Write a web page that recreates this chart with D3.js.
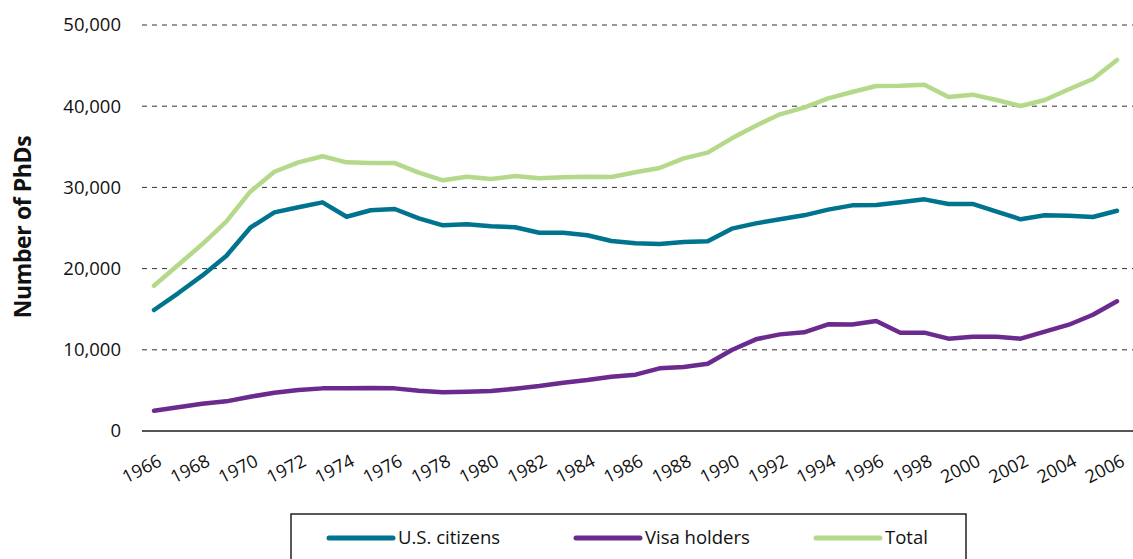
<!DOCTYPE html>
<html>
<head>
<meta charset="utf-8">
<script src="https://cdn.jsdelivr.net/npm/d3@7"></script>
<style>
  body { margin: 0; background: #fff; }
  text { font-family: "Open Sans", "Noto Sans", sans-serif; fill: #111; }
</style>
</head>
<body>
<svg width="1133" height="559"></svg>
<script>
// years 1966..2006
const years = d3.range(1966, 2007);
const yearTicks = d3.range(1966, 2007, 2);
const yTicks = [0, 10000, 20000, 30000, 40000, 50000];

const usCitizens = [14900, 16960, 19130, 21550, 25040, 26930, 27550, 28160, 26390, 27180,
  27340, 26190, 25330, 25450, 25210, 25090, 24420, 24420, 24100, 23400,
  23110, 23030, 23280, 23360, 24920, 25570, 26070, 26560, 27260, 27790,
  27830, 28160, 28530, 27960, 27960, 27010, 26070, 26560, 26520, 26350, 27130];

const visaHolders = [2500, 2920, 3360, 3650, 4220, 4720, 5050, 5250, 5250, 5300,
  5250, 4960, 4760, 4840, 4930, 5210, 5540, 5950, 6280, 6690,
  6940, 7720, 7880, 8290, 9980, 11290, 11900, 12150, 13140, 13110,
  13550, 12110, 12110, 11370, 11620, 11620, 11370, 12230, 13090, 14320, 15970];

const total = [17890, 20440, 22990, 25780, 29470, 31930, 33090, 33830, 33090, 33000,
  33000, 31810, 30870, 31320, 31030, 31400, 31120, 31240, 31320, 31280,
  31860, 32390, 33580, 34280, 36040, 37600, 39000, 39820, 40970, 41750,
  42490, 42530, 42650, 41130, 41420, 40760, 40020, 40760, 42080, 43350, 45690];

const seriesNames = ["U.S. citizens", "Visa holders", "Total"];
const seriesColors = ["#00748f", "#6b2a8e", "#b4d98a"];

const svg = d3.select('svg');

// scales
const x = d3.scaleLinear().domain([1966, 2006]).range([154, 1117]);
const y = d3.scaleLinear().domain([0, 50000]).range([431, 25]);

// gridlines (dashed) and the zero line
svg.append('g')
  .selectAll('line')
  .data(yTicks)
  .join('line')
  .attr('x1', 142)
  .attr('x2', 1133)
  .attr('y1', d => y(d))
  .attr('y2', d => y(d))
  .attr('stroke', d => d === 0 ? '#555' : '#333')
  .attr('stroke-width', d => d === 0 ? 2 : 1)
  .attr('stroke-dasharray', d => d === 0 ? null : '5,5');

// y tick labels
svg.append('g')
  .selectAll('text')
  .data(yTicks)
  .join('text')
  .attr('x', 121)
  .attr('y', d => y(d))
  .attr('dy', '0.35em')
  .attr('text-anchor', 'end')
  .style('font-size', '18.5px')
  .text(d => d3.format(',')(d));

// y axis title
svg.append('text')
  .attr('transform', 'translate(31,227) rotate(-90)')
  .attr('text-anchor', 'middle')
  .style('font-size', '23px')
  .style('font-weight', 'bold')
  .style('letter-spacing', '-0.4px')
  .text('Number of PhDs');

// x tick labels, rotated
svg.append('g')
  .selectAll('text')
  .data(yearTicks)
  .join('text')
  .attr('transform', d => `translate(${x(d) + 9},${465}) rotate(-27)`)
  .attr('text-anchor', 'end')
  .style('font-size', '18px')
  .text(d => d);

// lines
const line = d3.line()
  .x((d, i) => x(years[i]))
  .y(d => y(d));

const allSeries = [usCitizens, visaHolders, total];

svg.append('g')
  .selectAll('path')
  .data(allSeries)
  .join('path')
  .attr('d', d => line(d))
  .attr('fill', 'none')
  .attr('stroke', (d, i) => seriesColors[i])
  .attr('stroke-width', 4.5)
  .attr('stroke-linejoin', 'round')
  .attr('stroke-linecap', 'round');

// legend
const legend = svg.append('g');
legend.append('rect')
  .attr('x', 291)
  .attr('y', 514)
  .attr('width', 675)
  .attr('height', 60)
  .attr('fill', 'none')
  .attr('stroke', '#222')
  .attr('stroke-width', 1.5);

const legendX = [329, 576, 816];
const items = legend.selectAll('g.item')
  .data(seriesNames)
  .join('g')
  .attr('class', 'item')
  .attr('transform', (d, i) => `translate(${legendX[i]},538)`);

items.append('line')
  .attr('x1', 0)
  .attr('x2', 64)
  .attr('stroke', (d, i) => seriesColors[i])
  .attr('stroke-width', 5)
  .attr('stroke-linecap', 'round');

items.append('text')
  .attr('x', 69)
  .attr('dy', '0.35em')
  .style('font-size', '18.5px')
  .text(d => d);
</script>
</body>
</html>
